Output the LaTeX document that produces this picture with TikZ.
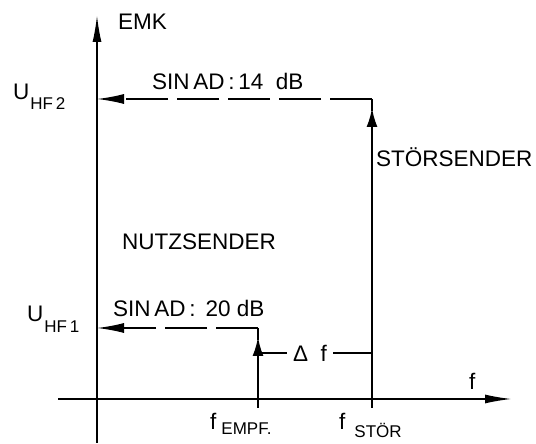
\documentclass[tikz,border=0pt]{standalone}
\usepackage{fontspec}
\setmainfont{Liberation Sans}
\usetikzlibrary{arrows.meta,positioning}

\newcommand{\subtxt}[2]{\raisebox{-#1}{\fontsize{17}{17}\selectfont #2}}

\begin{document}
\begin{tikzpicture}[
    x=1pt, y=1pt,
    lbl/.style={font=\fontsize{22.5}{24}\selectfont, inner sep=0pt},
    axis/.style={line width=1.8pt, -{Latex[length=27pt, width=9pt]}},
    arr/.style={line width=2.2pt, -{Latex[length=19pt, width=11pt]}},
    dline/.style={line width=1.5pt, dash pattern=on 42pt off 9pt,
      -{Latex[length=27pt, width=10pt]}},
    thin/.style={line width=1.6pt}
  ]
    \useasboundingbox (0,0) rectangle (536,444);
    % axes
    \coordinate (ybot) at (97,1);
    \coordinate (ytop) at (97,429);
    \coordinate (xl) at (58,45);
    \coordinate (xr) at (512,45);
    \draw[axis] (ybot) -- (ytop);
    \draw[axis] (xl) -- (xr);
    % useful and interfering transmitter
    \coordinate (emp) at (258,45);
    \coordinate (empbot) at (258,36);
    \coordinate (emptop) at (258,116);
    \coordinate (stoer) at (372,45);
    \coordinate (stoerbot) at (372,36);
    \coordinate (stoertop) at (372,345);
    \coordinate (u1) at (97,116);
    \coordinate (u2) at (97,345);
    \draw[thin] (emp) -- (empbot);
    \draw[thin] (stoer) -- (stoerbot);
    \draw[arr, shorten >=9pt] (emp) -- (emptop);
    \draw[line width=2.2pt] (emptop) -- ++(0,-12);
    \draw[arr, shorten >=9pt] (stoer) -- (stoertop);
    \draw[line width=2.2pt] (stoertop) -- ++(0,-12);
    \draw[dline] (emptop) -- (u1);
    \draw[dline] (stoertop) -- (u2);
    % delta f
    \coordinate (df1) at (258,91);
    \coordinate (df2) at (372,91);
    \node[lbl, inner sep=6pt] (df) at (310,91) {Δ\ \ f};
    \draw[thin] (df1) -- (df.west);
    \draw[thin] (df.east) -- (df2);
    % labels
    \node[lbl, anchor=base west] (emk) at (118,414) {EMK};
    \node[lbl, anchor=base west] (uhf2) at (13,344) {U\hspace{1pt}\subtxt{10pt}{HF\,2}};
    \node[lbl, anchor=base west] (uhf1) at (27,122) {U\hspace{1pt}\subtxt{11pt}{HF\,1}};
    \node[lbl, anchor=base west] (sin2) at (152,354) {SIN\,AD\,:\,14\ \ dB};
    \node[lbl, anchor=base west] (sin1) at (113,127) {SIN\,AD\,:\ \,20\ dB};
    \node[lbl, anchor=base west] (stsend) at (376,277) {STÖRSENDER};
    \node[lbl, anchor=base west] (nutz) at (122,194) {NUTZSENDER};
    \node[lbl, anchor=base west] (faxis) at (469,54) {f};
    \node[lbl, anchor=base west] (fempf) at (210,14) {f\hspace{5pt}\subtxt{5pt}{EMPF.}};
    \node[lbl, anchor=base west] (fstoer) at (339,14) {f\hspace{9pt}\subtxt{8pt}{STÖR}};
  \end{tikzpicture}
\end{document}
